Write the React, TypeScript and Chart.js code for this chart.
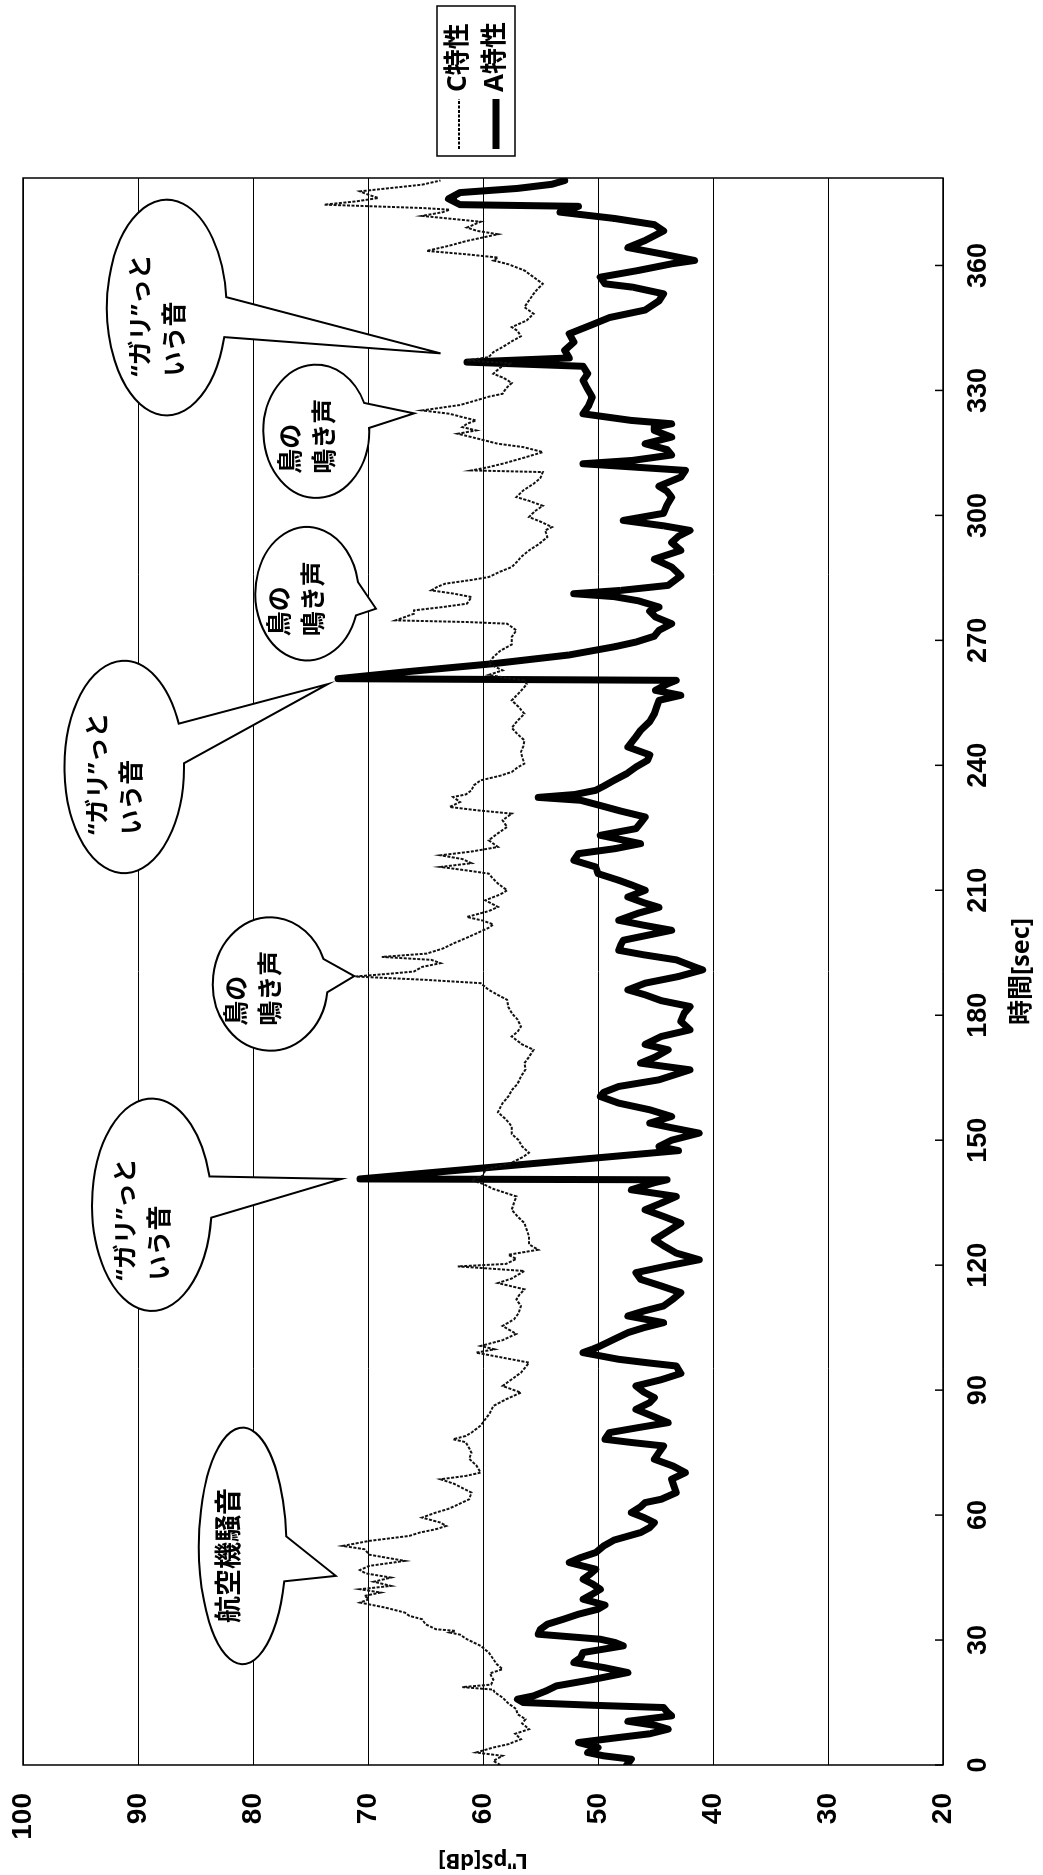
import React, { useEffect, useRef } from "react";
import { Chart, registerables } from "chart.js";

Chart.register(...registerables);

const FONT = '"Noto Sans", "Noto Sans CJK JP", sans-serif';
const NUM_FONT = '"Liberation Sans Narrow", "Liberation Sans", sans-serif';
const NUM_FONT_WIDE = '"Liberation Sans", sans-serif';

const timeTicks = [0, 30, 60, 90, 120, 150, 180, 210, 240, 270, 300, 330, 360];
const levelTicks = [20, 30, 40, 50, 60, 70, 80, 90, 100];
const seriesNames = ["C特性", "A特性"];
const xAxisTitle = "時間[sec]";
const yAxisTitle = 'L"pS[dB]';

// C-weighted level [time s, dB]
const cPoints: [number, number][] = [
  [0,58.5],[1,59.1],[2.2,58.3],[3,60.6],[4.2,59.1],[5,57.8],[6.2,56.7],[7.5,57.2],[8.6,56.0],[10,56.6],[11,56.3],[12.2,57.0],[13.4,57.1],[14.8,57.8],[16.2,58.3],[17.5,59.0],[18.1,59.1],[18.7,61.8],[19.3,59.3],[20.5,59.1],[22,59.4],[23,58.3],[24.2,58.8],[25.4,59.1],[27,59.5],[28.6,60.2],[30.2,61.4],[31.3,62.0],[31.8,62.9],[32.2,62.4],[32.6,64.1],[33.8,65.0],[35,65.3],[35.8,66.4],[36.6,66.8],[37.8,68.5],[39,70.7],[39.8,69.9],[40.6,70.3],[41.4,68.9],[42.2,70.7],[43,68.0],[44,69.5],[45,68.0],[46,70.2],[46.8,70.7],[47.8,69.9],[49,66.8],[50.5,69.9],[51.8,70.3],[52.6,72.2],[53.8,69.9],[55,66.4],[55.8,65.5],[56.6,64.1],[57.4,63.2],[58.2,63.7],[59.4,65.3],[60.6,64.1],[61.5,63.0],[62.5,62.2],[63.8,61.2],[65.4,61.0],[66.5,61.8],[67.5,62.5],[68.6,63.7],[69.4,61.5],[70.2,60.2],[72,60.6],[73.5,61.2],[75,61.0],[76.5,61.3],[77.5,61.5],[78.2,62.6],[79,61.5],[79.8,61.0],[81.5,60.2],[83,59.8],[84.5,59.4],[86.2,59.1],[87.8,58.0],[89.4,56.7],[91,58.3],[92.6,57.5],[94.2,56.7],[95.5,56.3],[96.6,56.0],[97.8,58.3],[99,60.6],[99.8,59.0],[100.6,60.2],[102,58.3],[103.5,57.1],[105.4,58.3],[107,57.3],[108.5,56.9],[110.2,56.7],[111.8,57.1],[113,56.8],[114.2,56.4],[115.7,58.7],[116.8,57.5],[118.6,56.4],[119.2,59.5],[119.7,62.2],[120.3,58.0],[121.5,57.1],[122.5,57.8],[123.7,55.2],[125,56.0],[126.9,56.0],[128.5,56.2],[130.1,56.4],[131.7,57.0],[133.3,57.5],[135,57.3],[136.5,57.1],[138.3,59.1],[139.5,60.0],[140.4,61.0],[141.5,60.0],[142.9,59.8],[144.6,57.5],[146,56.5],[147,56.0],[148.5,56.6],[150,56.9],[151.5,57.5],[153.3,57.5],[155,58.0],[156.7,58.7],[158.9,58.3],[160.5,57.8],[162,57.5],[163.5,57.0],[165.3,56.7],[167,56.3],[168.5,56.4],[170,56.0],[171.7,55.6],[173,56.6],[174.9,57.5],[176,57.0],[177.3,56.7],[179,57.0],[180.5,57.5],[182,57.8],[183.7,57.9],[185,58.8],[186.1,59.5],[187.7,60.2],[188.5,65.0],[189.3,71.1],[190,68.0],[190.5,66.0],[191.6,65.3],[192.5,63.7],[193.3,64.5],[194,68.8],[194.8,64.9],[196,63.5],[197.2,62.6],[198.5,61.5],[199.6,60.6],[201,59.5],[201.8,59.1],[202.7,60.0],[203.6,61.4],[205,59.5],[206,58.7],[207.6,59.8],[209,58.5],[210,57.9],[211.6,58.7],[213,59.2],[214,59.5],[214.8,61.5],[215.6,63.7],[216.5,61.0],[217.5,61.8],[218.4,63.7],[219.3,61.0],[220.4,58.7],[222,59.5],[223.5,58.8],[225.2,57.9],[226.8,58.3],[228.4,57.5],[229.2,60.5],[230,62.9],[231.2,62.0],[232.4,62.6],[233,61.5],[234,61.0],[235.2,60.8],[236.4,60.2],[237.5,58.5],[238.4,57.5],[239.5,57.0],[240.4,56.4],[242,56.6],[243.2,56.7],[244.5,56.5],[246,56.4],[247.5,57.0],[249,57.5],[250.7,57.0],[252.4,56.4],[254,56.9],[255.6,57.5],[257,57.0],[258.5,56.5],[259.5,56.2],[260.4,56.4],[261,58.0],[261.7,59.5],[262.8,58.3],[264.4,59.5],[266,59.1],[267.5,58.5],[269,57.5],[270.8,57.5],[272.4,57.1],[274,57.9],[274.4,61.4],[274.8,67.6],[275.6,66.8],[276.4,66.0],[277.2,66.0],[278,63.5],[278.8,61.4],[279.6,61.2],[280.4,61.0],[281.2,62.5],[282,64.5],[282.8,64.0],[283.6,63.3],[284.5,61.0],[285.2,59.5],[286.5,58.5],[287.6,57.5],[289,57.0],[290,56.7],[291.6,56.0],[293,55.2],[294.8,54.4],[296.4,54.6],[297.2,54.0],[298.5,55.0],[299.6,56.0],[301,55.5],[302.3,54.8],[303.5,56.0],[304.4,57.1],[306,56.5],[307.6,55.6],[309,55.0],[310.4,54.8],[310.8,61.0],[311.6,59.5],[312.4,58.3],[313.8,56.5],[315.2,54.8],[316.4,56.5],[317.2,58.7],[318.8,61.0],[319.6,62.2],[320.4,60.6],[321.2,61.8],[322,61.4],[322.8,60.6],[323.6,61.8],[324.4,62.9],[325.2,65.3],[326.5,62.0],[327.6,60.6],[328.5,59.5],[329.2,58.3],[330.5,58.0],[331.8,57.5],[333,58.2],[334,59.1],[335.5,58.5],[336.5,57.5],[337.2,61.4],[338,59.5],[339.2,59.1],[340.4,58.3],[341.8,57.5],[343,56.7],[344.3,57.0],[345.2,57.5],[346.8,56.2],[348.4,55.6],[350,56.4],[351.6,56.0],[353.2,55.6],[354.5,55.2],[355.6,54.8],[357.2,55.6],[358.8,56.4],[360.3,57.8],[361.2,59.1],[361.9,58.7],[362.7,61.5],[363.5,64.9],[364.7,63.0],[365.9,61.4],[367.5,58.7],[368.3,60.5],[369.1,61.4],[370.5,60.2],[371.9,65.3],[372.8,63.5],[373.4,62.9],[373.8,65.3],[374.6,73.8],[375.4,71.0],[376.2,69.1],[377,70.0],[377.8,70.7],[378.6,68.0],[379.4,65.3],[380.4,63.7]
];

// A-weighted level [time s, dB]
const aPoints: [number, number][] = [
  [0,47.5],[1.4,47.1],[2.2,49.5],[3,50.9],[4.2,50.0],[5.4,51.7],[6.5,48.5],[7.5,45.5],[8.6,43.9],[9.5,45.0],[10.5,47.4],[11.8,43.6],[12.8,44.0],[13.8,44.3],[14.3,50.0],[15,56.5],[15.8,57.0],[16.6,55.6],[17.8,54.5],[19,53.6],[20.5,50.5],[22.2,47.4],[23.4,49.5],[24.6,52.1],[25.8,51.5],[27,51.3],[28.6,47.8],[29.4,48.5],[30.2,49.8],[31.4,55.2],[32.6,55.0],[33.8,54.4],[35,53.0],[36.2,51.7],[37.4,50.0],[38.4,49.4],[39.8,51.3],[41,50.5],[42.2,49.8],[43.5,50.5],[44.6,51.3],[45.8,50.7],[47,50.2],[48.6,52.5],[49.8,51.5],[51,50.2],[52.6,49.5],[54,48.6],[55.8,46.3],[57,45.5],[58.2,45.1],[59.4,46.0],[60.6,47.1],[62,46.3],[63,45.9],[63.8,44.5],[65.4,43.2],[67,43.4],[68.6,43.6],[70.2,42.4],[71.8,43.5],[73.4,45.1],[75,44.7],[76.6,44.3],[77.4,47.0],[78.2,49.4],[79,49.2],[79.8,49.0],[81,46.5],[82.2,43.9],[83.8,45.3],[85.4,46.7],[87,45.5],[88.2,45.1],[89.5,46.0],[91,46.7],[92.5,44.5],[94,42.8],[95.8,43.2],[96.5,45.5],[97.4,48.2],[99,51.3],[99.8,50.5],[100.6,49.8],[102.2,48.6],[103.8,47.4],[105,46.0],[106.2,44.3],[107.8,47.4],[109,46.0],[110.2,44.3],[111.8,43.5],[113.4,42.8],[115,44.5],[116.6,46.3],[118.2,46.7],[119.8,44.0],[121.3,41.2],[122.9,43.2],[124.5,44.2],[126.1,45.1],[128,44.0],[130.1,42.8],[131.7,44.3],[133.3,45.9],[134.9,44.5],[136.5,43.2],[138.1,47.1],[139.8,45.1],[140.5,44.0],[140.7,70.7],[147.5,43.0],[148.5,44.7],[150,43.6],[151.7,41.2],[153,43.6],[154.1,45.5],[155.7,43.6],[157.3,45.5],[158.9,48.2],[160.5,49.8],[161.5,49.5],[162.9,48.2],[164.5,44.7],[166.9,42.0],[168.5,46.3],[170,45.0],[171.7,43.9],[173,45.9],[174.9,44.5],[176.5,42.0],[178.5,42.8],[180.5,42.5],[182.1,42.0],[183.5,44.5],[184.9,45.9],[186.1,47.4],[187.7,45.9],[189.3,43.0],[190.9,40.9],[191.6,41.6],[193.3,43.2],[194.5,46.0],[195.6,48.2],[197,48.0],[198,47.8],[200.4,43.6],[201.6,46.0],[202.8,48.2],[204.5,46.5],[205.9,44.7],[207,46.0],[208.4,47.4],[210,45.9],[211.2,47.0],[212.4,48.2],[214,50.0],[215.6,50.2],[217.2,52.1],[218.8,51.7],[220,48.5],[221.2,46.3],[223.2,49.8],[224.8,46.7],[226.5,46.2],[227.6,45.9],[229,48.0],[230.5,50.0],[231.6,51.5],[232.3,55.2],[233,52.0],[234,50.2],[235,49.5],[236.4,48.6],[238,47.5],[239.6,46.7],[241.2,45.7],[242.5,45.5],[244.4,47.4],[246.5,46.8],[248.4,46.3],[250.5,45.5],[252.4,45.1],[254,44.9],[255.6,44.7],[256.8,42.8],[258,45.0],[259.5,44.0],[260.4,43.2],[260.8,72.6],[262.5,66.5],[264.4,59.1],[266.5,52.5],[268.5,48.5],[269.6,46.7],[271,45.1],[272.4,44.7],[274,43.6],[275.6,45.0],[277,45.5],[278,44.7],[279.5,46.5],[280.5,48.6],[281.2,52.1],[282,48.0],[283.2,43.9],[285.5,42.8],[287.6,43.6],[289.5,45.1],[291.6,42.8],[293.5,43.6],[295,43.0],[296.4,42.0],[297.5,44.3],[298.8,47.8],[300.5,44.3],[302.5,44.0],[304.4,43.6],[305.8,44.0],[307,44.7],[309.2,42.8],[310.8,42.4],[312.4,51.3],[313.2,47.0],[314.5,43.6],[315.8,44.0],[317.2,45.9],[318.8,43.6],[320.4,45.1],[321.2,45.1],[322,43.6],[322.8,47.1],[324.4,51.3],[326.4,50.8],[328.4,50.5],[330.8,51.0],[332.4,51.3],[334,50.9],[335.8,51.3],[336.8,61.4],[337.8,52.5],[339.6,52.9],[341.6,52.1],[343.6,52.5],[345.8,50.5],[347.5,49.0],[349.3,45.9],[351.5,44.7],[353.2,44.3],[354.8,47.0],[355.6,49.4],[357.2,49.8],[358.8,46.5],[360.4,43.6],[361.2,41.6],[362.7,44.3],[364.3,47.4],[366,45.9],[368.3,44.3],[369.8,45.1],[371.3,48.6],[372.8,53.3],[374.2,51.7],[374.6,62.0],[376,63.0],[377.5,62.0],[378.5,57.0],[379.5,54.0],[380.4,52.9]
];

// Speech-bubble annotations, in data units (time s, dB)
const calloutTexts: string[][] = [
  ["航空機騒音"],
  ["“ガリ”っと", "いう音"],
  ["鳥の", "鳴き声"],
  ["“ガリ”っと", "いう音"],
  ["鳥の", "鳴き声"],
  ["鳥の", "鳴き声"],
  ["“ガリ”っと", "いう音"],
];
const calloutGeometry = [
  { center: [52.6, 80.9], radius: [28.4, 3.8], base: [54.9, 44.1], tip: [45.4, 72.8], text: [50.3, 82.0], size: 27 },
  { center: [134.5, 88.8], radius: [25.5, 5.2], base: [141.3, 131.4], tip: [140.7, 72.3], text: [131, 89.5], size: 25 },
  { center: [187.5, 78.5], radius: [16, 5.0], base: [193.5, 185.5], tip: [189.4, 71.2], text: [186.5, 79.8], size: 25 },
  { center: [239.6, 91.2], radius: [25.5, 5.2], base: [250, 240.5], tip: [259.5, 73.5], text: [238, 91.9], size: 25 },
  { center: [281.2, 75.3], radius: [16, 4.5], base: [284, 276], tip: [277.6, 69.3], text: [280, 76.1], size: 25 },
  { center: [320.2, 74.5], radius: [16, 4.6], base: [327, 321], tip: [324.5, 66], text: [319, 75.1], size: 25 },
  { center: [349.9, 87.5], radius: [25.9, 5.2], base: [352.4, 342.8], tip: [338.9, 63.7], text: [348, 88.2], size: 25 },
];

const CANVAS_W = 1875;
const CANVAS_H = 1043;

const decorPlugin = {
  id: "decor",
  afterDatasetsDraw(chart: any) {
    const { ctx, chartArea: a, scales } = chart;
    const xs = scales.x;
    const ys = scales.y;
    ctx.save();

    // callouts
    calloutGeometry.forEach((g, i) => {
      const cx = xs.getPixelForValue(g.center[0]);
      const cy = ys.getPixelForValue(g.center[1]);
      const rx = Math.abs(xs.getPixelForValue(g.center[0] + g.radius[0]) - cx);
      const ry = Math.abs(ys.getPixelForValue(g.center[1] + g.radius[1]) - cy);
      const angs = g.base.map((t) => {
        const c = Math.max(-1, Math.min(1, (xs.getPixelForValue(t) - cx) / rx));
        return Math.acos(c);
      });
      const aLo = Math.min(angs[0], angs[1]);
      const aHi = Math.max(angs[0], angs[1]);
      const tx = xs.getPixelForValue(g.tip[0]);
      const ty = ys.getPixelForValue(g.tip[1]);
      ctx.beginPath();
      ctx.ellipse(cx, cy, rx, ry, 0, aHi, aLo + Math.PI * 2, false);
      ctx.lineTo(tx, ty);
      ctx.closePath();
      ctx.fillStyle = "#fff";
      ctx.fill();
      ctx.lineWidth = 2;
      ctx.strokeStyle = "#000";
      ctx.lineJoin = "miter";
      ctx.stroke();

      const lines = calloutTexts[i];
      ctx.font = `bold ${g.size}px ${FONT}`;
      ctx.fillStyle = "#000";
      ctx.textBaseline = "middle";
      ctx.textAlign = "left";
      const lh = 34;
      const bw = Math.max(...lines.map((l) => ctx.measureText(l).width));
      const bx = xs.getPixelForValue(g.text[0]) - bw / 2;
      const by = ys.getPixelForValue(g.text[1]);
      lines.forEach((l, k) => {
        ctx.fillText(l, bx, by + (k - (lines.length - 1) / 2) * lh);
      });
    });

    // plot frame
    ctx.lineWidth = 1.5;
    ctx.strokeStyle = "#000";
    ctx.strokeRect(a.left, a.top, a.right - a.left, a.bottom - a.top);

    // inward tick marks on the time axis
    ctx.lineWidth = 1.5;
    timeTicks.forEach((v) => {
      const px = xs.getPixelForValue(v);
      ctx.beginPath();
      ctx.moveTo(px, a.bottom);
      ctx.lineTo(px, a.bottom - 8);
      ctx.stroke();
    });

    // legend
    const lx = a.right + 22;
    const ly = 437;
    ctx.lineWidth = 1.5;
    ctx.strokeRect(lx, ly, 150, 78);
    const rows = [ly + 22, ly + 59];
    ctx.beginPath();
    ctx.setLineDash([3, 1.5]);
    ctx.lineWidth = 2;
    ctx.moveTo(lx + 7, rows[0]);
    ctx.lineTo(lx + 57, rows[0]);
    ctx.stroke();
    ctx.setLineDash([]);
    ctx.beginPath();
    ctx.lineWidth = 7;
    ctx.moveTo(lx + 7, rows[1]);
    ctx.lineTo(lx + 57, rows[1]);
    ctx.stroke();
    ctx.font = `bold 26px ${FONT}`;
    ctx.fillStyle = "#000";
    ctx.textBaseline = "middle";
    ctx.textAlign = "left";
    ctx.fillText(seriesNames[0], lx + 64, rows[0]);
    ctx.fillText(seriesNames[1], lx + 64, rows[1]);

    ctx.restore();
  },
};

export default function App() {
  const ref = useRef<HTMLCanvasElement | null>(null);

  useEffect(() => {
    document.body.style.margin = "0";
    const canvas = ref.current;
    if (!canvas) return;
    const chart = new Chart(canvas, {
      type: "line",
      data: {
        datasets: [
          {
            label: seriesNames[0],
            data: cPoints.map(([x, y]) => ({ x, y })),
            borderColor: "#111",
            borderWidth: 2,
            borderDash: [3, 1.5],
            pointRadius: 0,
            tension: 0,
            fill: false,
          },
          {
            label: seriesNames[1],
            data: aPoints.map(([x, y]) => ({ x, y })),
            borderColor: "#000",
            borderWidth: 7,
            borderJoinStyle: "round",
            borderCapStyle: "round",
            pointRadius: 0,
            tension: 0,
            fill: false,
          },
        ],
      },
      options: {
        animation: false,
        responsive: false,
        maintainAspectRatio: false,
        devicePixelRatio: 1,
        layout: { padding: { left: 0, right: 178, top: 23, bottom: 0 } },
        plugins: { legend: { display: false }, tooltip: { enabled: false } },
        scales: {
          x: {
            type: "linear",
            position: "bottom",
            min: 0,
            max: 381,
            afterBuildTicks: (s: any) => {
              s.ticks = timeTicks.map((v) => ({ value: v }));
            },
            afterFit: (s: any) => {
              s.height = 100;
              s.paddingLeft = 0;
              s.paddingRight = 0;
            },
            grid: { display: false, drawTicks: false },
            border: { display: false },
            ticks: {
              color: "#000",
              autoSkip: false,
              maxRotation: 0,
              padding: 19,
              font: { family: NUM_FONT, size: 27, weight: "bold" },
            },
            title: {
              display: true,
              text: xAxisTitle,
              color: "#000",
              font: { family: FONT, size: 25, weight: "bold" },
              padding: { top: 0, bottom: 6 },
            },
          },
          y: {
            type: "linear",
            min: 20,
            max: 100,
            afterBuildTicks: (s: any) => {
              s.ticks = levelTicks.map((v) => ({ value: v }));
            },
            afterFit: (s: any) => {
              s.width = 110;
              s.paddingTop = 0;
              s.paddingBottom = 0;
            },
            grid: { color: "#000", lineWidth: 1, drawTicks: false },
            border: { display: false },
            ticks: {
              color: "#000",
              padding: 28,
              font: { family: NUM_FONT_WIDE, size: 28, weight: "bold" },
            },
            title: {
              display: true,
              text: yAxisTitle,
              color: "#000",
              font: { family: FONT, size: 22, weight: "bold" },
              padding: { top: 2, bottom: 0 },
            },
          },
        },
      },
      plugins: [decorPlugin],
    });
    return () => chart.destroy();
  }, []);

  return (
    <div style={{ position: "relative", width: 1043, height: 1875, overflow: "hidden", background: "#fff" }}>
      <canvas
        ref={ref}
        width={CANVAS_W}
        height={CANVAS_H}
        style={{
          position: "absolute",
          left: 0,
          top: 0,
          width: CANVAS_W,
          height: CANVAS_H,
          transformOrigin: "0 0",
          transform: `translate(0px, ${CANVAS_W}px) rotate(-90deg)`,
        }}
      />
    </div>
  );
}
